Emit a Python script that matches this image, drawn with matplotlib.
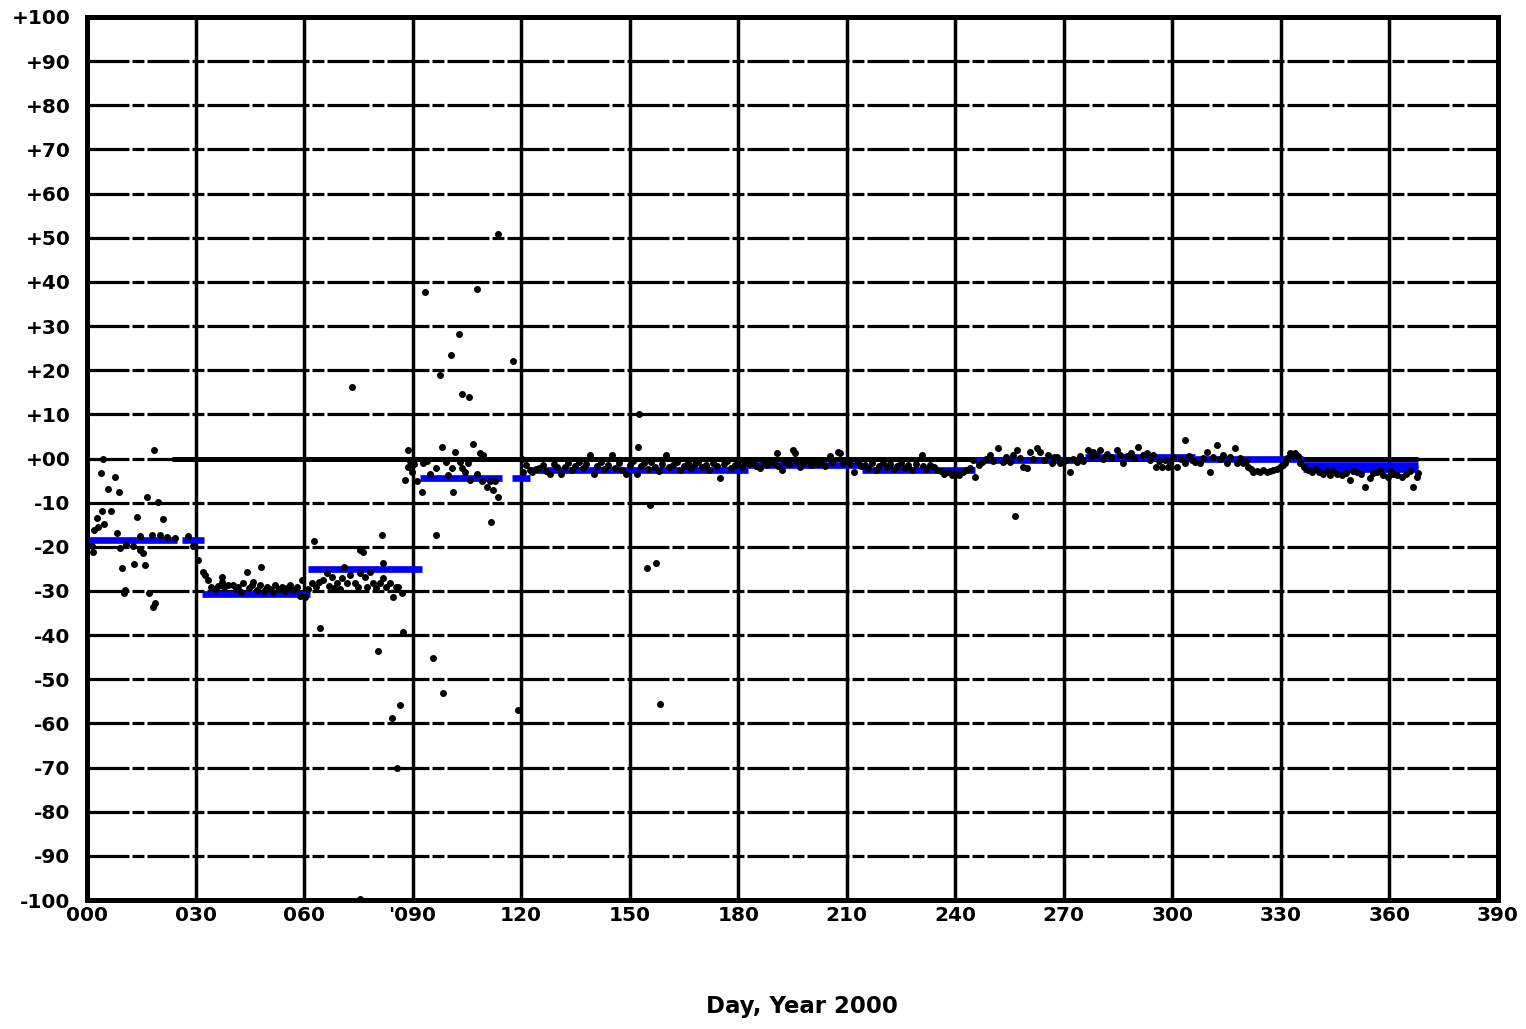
import matplotlib
matplotlib.use("Agg")
import matplotlib.pyplot as plt

plt.rcParams['font.family'] = ['DejaVu Sans']
plt.rcParams['font.weight'] = 'bold'
plt.rcParams['lines.scale_dashes'] = False

# Daily clock-offset observations, day of year 2000
obs_day = [
    1.3, 1.7, 2.0, 2.7, 3.1, 3.8, 4.2, 4.4, 4.8, 5.9, 6.6, 7.7, 8.2, 8.9, 9.1, 9.8, 10.3, 10.5,
    10.9, 12.8, 13.0, 13.7, 14.6, 14.6, 15.6, 16.0, 16.7, 17.0, 17.9, 18.3, 18.6, 18.8, 19.5,
    20.2, 21.1, 22.0, 24.3, 28.0, 29.4, 30.8, 32.0, 32.6, 33.5, 34.3,
    35.5, 36.3, 37.2, 37.2, 38.0, 39.0, 40.4, 41.1, 41.8, 42.5, 43.2, 44.1, 44.8, 45.5, 46.0,
    47.0, 47.8, 48.0, 48.8, 49.7, 50.5, 51.3, 52.0, 53.0, 53.8, 54.6, 55.4, 56.1, 57.0, 58.0,
    58.9, 59.3, 60.2,
    61.2, 62.1, 62.8, 63.3, 64.0, 64.4, 65.3, 66.2, 67.0, 67.6, 68.3, 69.0, 69.8, 70.5, 70.9,
    71.8, 72.7, 73.3, 74.1, 75.0, 75.5, 75.5, 75.5, 76.4, 76.8, 77.5, 78.2, 79.1, 80.0, 80.4,
    81.0, 81.4, 81.9, 81.9, 82.7, 83.7, 84.3, 84.7, 85.3, 85.7, 86.0, 86.5, 87.0, 87.3,
    87.9, 88.6, 88.8, 89.2, 89.7, 90.4, 91.1, 92.5, 93.0, 93.4, 94.0, 94.8, 95.6, 96.5, 96.6,
    97.6, 98.0, 98.4, 99.2, 99.9, 100.5, 100.8, 101.3, 101.7, 102.8, 103.2, 103.6, 103.6,
    104.5, 105.2, 105.6, 105.9, 106.7, 107.7, 107.7, 108.6, 109.1, 109.5, 110.5, 111.4,
    111.8, 112.3, 112.8, 113.5, 113.7, 117.8, 119.1, 120.1, 120.6, 121.3, 122.4,
    123, 124, 125, 126, 127, 128, 129, 130, 131, 132, 133, 134, 135, 136, 137, 138, 139, 140,
    141, 142, 143, 144, 145, 146, 147, 148, 149, 150, 151, 152, 152.4, 152.6, 153, 154, 154.8,
    155, 155.6, 156, 157, 157.3, 158, 158.4, 159, 160, 161, 162, 163, 164, 165, 166, 167, 168,
    169, 170, 171, 172, 173, 174, 175, 176, 177, 178, 179, 180, 181, 182,
    183, 184, 185, 186, 187, 188, 189, 190, 190.6, 191, 192, 193, 194, 195.2, 195.7, 196, 197,
    198, 199, 200, 201, 202, 203, 204, 205.4, 206, 207.7, 208.1, 209, 210, 211, 212, 213, 214,
    215, 216, 217, 218, 219, 220, 221, 222, 223, 224, 225, 226, 227, 228, 229, 230.7, 231,
    232, 233, 234, 235, 236, 237, 238, 239, 240, 241, 242, 243, 244, 245,
    245.4, 246.5, 247.5, 248.5, 249.6, 250.5, 251.9, 253.3, 254.0, 255.1, 256.0, 256.5,
    257.0, 258.0, 258.8, 259.7, 260.6, 261.5, 262.5, 263.4, 264.5, 265.7, 266.6, 267.3,
    268.0, 268.9, 270.0, 270.7, 271.7, 272.5, 273.5, 274.5, 275.3,
    276.8, 277.5, 278.1, 279.0, 280.0, 280.9, 282.0, 283.0, 284.6, 285.5, 286.4, 287.5,
    288.5, 289.5, 290.6, 292.0, 293.0, 293.8, 294.7, 295.6, 296.3, 297.0, 298.0, 298.9,
    299.3, 300.2, 301.2, 302.3, 303.5, 303.5, 304.5, 305.3, 306.2, 307.6, 308.5, 309.5,
    310.4, 311.3, 312.2, 313.2, 314.0, 315.0, 316.0, 317.3, 317.8, 318.7, 319.6, 320.3,
    321.0, 321.7, 322.4, 323.3, 324.2, 325.1, 326.1, 327.0, 327.9, 328.8, 329.8, 330.5,
    331.1, 331.8, 332.5, 333.2, 333.9, 334.6, 335.3,
    336.5, 337.5, 338.5, 339.5, 340.5, 341.7, 342.6, 343.6, 344.5, 345.4, 346.8, 348.0,
    349.1, 350.0, 351.0, 352.2, 353.3, 354.6, 355.5, 356.5, 357.4, 358.3, 359.7, 360.5,
    361.1, 362.0, 363.4, 364.7, 365.6, 366.6, 367.5, 368.0,
]
obs_val = [
    -19.8, -21.1, -16.2, -13.5, -15.6, -3.2, -12.0, 0.0, -14.8, -6.8, -12.0, -4.1, -16.9, -7.5,
    -20.3, -24.9, -30.5, -29.8,
    -19.6, -19.8, -23.9, -13.2, -17.6, -20.7, -21.5, -24.1, -8.7, -30.5, -17.3, -33.6, 1.9,
    -32.8, -9.8,
    -17.3, -13.8, -17.7, -17.9, -17.6, -19.8, -23.0, -25.6, -26.4, -27.5, -29.0,
    -29.5, -28.9, -26.8, -27.9, -29.2, -28.7, -28.7, -29.6, -29.0, -30.2, -28.3, -25.6, -29.4,
    -28.7, -27.9,
    -29.8, -28.7, -24.6, -30.1, -29.0, -29.5, -30.3, -28.7, -29.6, -29.0, -30.0, -29.3, -28.7,
    -29.8, -29.0,
    -31.1, -27.5, -31.3,
    -29.5, -28.3, -18.6, -29.1, -27.9, -38.4, -27.5, -26.0, -28.9, -26.8, -29.3, -28.3, -29.5,
    -27.0, -24.5,
    -28.3, -26.4, 16.1, -28.3, -29.2, -20.7, -26.0, -99.8, -21.1, -26.8, -29.0, -25.6, -28.3,
    -29.4, -43.6,
    -28.3, -17.3, -23.7, -27.1, -29.0, -28.3, -58.8, -31.3, -29.2, -70.1, -29.0, -55.8, -30.5,
    -39.3,
    -4.9, 1.9, -1.9, -0.5, -3.0, -1.2, -5.2, -7.5, -1.1, 37.6, -0.6, -3.4, -45.2, -17.3, -2.2,
    18.8, 2.6, -53.1, -0.8, -3.7, 23.5, -2.2, -7.5, 1.5, 28.2, -0.7, -2.2, 14.6,
    -3.0, -1.0, 13.9, -4.9, 3.2, -3.4, 38.4, 1.2, -5.2, 0.8, -6.4, -5.2,
    -14.3, -7.1, -5.2, 50.8, -8.7, 22.0, -57.0, 0.0, -3.0, -1.5, -2.6,
    -3.0, -2.4, -2.2, -1.5, -2.8, -3.4, -1.2, -1.9, -3.4, -2.0, -1.0, -2.5, -1.6, -0.8, -2.2,
    -1.3, 0.8, -3.4,
    -1.7, -0.9, -2.4, -1.4, 0.8, -2.1, -1.0, -2.6, -3.4, -1.5, -0.6, -3.4, 2.6, 10.1, -1.8,
    -1.1, -24.8,
    -2.3, -10.5, -0.7, -1.9, -23.7, -2.8, -55.6, -1.2, 0.8, -2.0, -1.4, -0.8, -2.5, -1.6, -1.0,
    -2.2, -1.3,
    -0.7, -2.0, -1.5, -2.6, -1.0, -1.8, -4.5, -1.2, -0.6, -2.1, -1.4, -0.8, -1.9, -1.0,
    -1.2, -0.6, -1.8, -2.2, -0.9, -1.4, -0.5, -1.1, 1.2, -1.7, -2.6, -0.8, -1.3, 1.9, 1.2,
    -0.6, -1.9,
    -1.0, -0.4, -1.5, -0.9, -1.2, -0.5, -1.6, 0.6, -0.8, 1.5, 1.2, -1.0, -0.5, -1.3, -3.0,
    -0.9, -1.8,
    -1.5, -2.2, -1.1, -2.5, -1.6, -1.0, -2.0, -1.3, -2.4, -1.7, -1.0, -2.1, -1.4, -2.6, -1.2,
    0.8, -1.8,
    -2.3, -1.5, -2.0, -2.6, -2.9, -3.4, -3.1, -3.7, -3.3, -3.7, -3.0, -2.6, -2.2, -0.3,
    -4.1, -1.5, -0.9, -0.2, 0.8, -0.6, 2.3, -0.7, 0.3, -0.7, 0.8, -13.0,
    1.9, 0.2, -1.9, -2.2, 1.5, 0.0, 2.3, 1.5, -0.4, 0.8, -1.1, 0.3,
    0.4, -1.1, -0.6, -0.3, -3.0, -0.2, -0.8, 0.5, -0.5,
    1.9, 0.6, 1.5, 0.9, 1.9, 0.0, 1.1, 0.4, 1.9, 0.8, -1.1, 0.6,
    1.2, 0.2, 2.7, 0.8, 1.3, -0.3, 0.7, -1.9, -0.5, -1.9, -0.4, -1.9,
    -0.7, 0.3, -1.9, -0.2, 4.2, -1.1, 0.5, -0.3, -0.7, -1.1, 0.2, 1.5,
    -3.0, 0.4, 3.1, 0.0, 0.9, -1.1, 0.3, 2.3, -1.1, 0.2, -1.1, -0.6,
    -1.9, -2.4, -3.0, -2.8, -3.0, -2.7, -3.0, -2.8, -2.6, -2.3, -1.9, -1.5,
    -1.1, 0.2, 1.2, 0.8, 1.2, 0.5, -1.1,
    -1.9, -2.6, -3.0, -2.4, -3.1, -3.4, -2.9, -3.7, -2.8, -3.4, -3.7, -3.2,
    -4.9, -2.9, -3.0, -3.5, -6.4, -4.5, -3.3, -3.0, -2.7, -3.7, -4.1, -2.9,
    -3.4, -3.7, -4.1, -3.4, -2.8, -6.4, -4.1, -3.2,
]

# Period means (blue bars): start day, end day, mean offset
mean_start = [0.6, 26.2, 31.7, 61.2, 92.0, 117.4, 122.4, 182.7, 214.2, 245.4, 275.8, 306.3, 336.2, 336.2]
mean_end = [24.8, 32.3, 61.6, 92.5, 114.6, 122.4, 182.7, 214.2, 245.4, 275.8, 306.3, 336.2, 368.0, 368.0]
mean_val = [-18.5, -18.5, -30.7, -25.1, -4.5, -4.5, -2.7, -1.5, -2.7, -0.4, 0.4, -0.2, -1.5, -2.3]

# Reference clock trace held at zero
ref_span = [23.5, 368.0]
ref_level = 0.0

x_ticks = list(range(0, 391, 30))
x_labels = ["000", "030", "060", "'090", "120", "150", "180", "210", "240", "270", "300", "330", "360", "390"]
y_ticks = list(range(-100, 101, 10))
y_labels = [("+%02d" % v if v >= 0 else "-%d" % abs(v)) for v in y_ticks]

fig = plt.figure(figsize=(15.26, 10.29), dpi=100)
ax = fig.add_axes([87 / 1526, 1 - 900 / 1029, (1498 - 87) / 1526, (900 - 17) / 1029])

ax.set_xlim(0, 390)
ax.set_ylim(-100, 100)

# grid: solid verticals, long-short dashed horizontals
dash = (0, (30.2, 2.2, 8.6, 2.2))
for xv in x_ticks[1:-1]:
    ax.axvline(xv, color='black', lw=2.5, zorder=1)
for yv in y_ticks[1:-1]:
    ax.axhline(yv, color='black', lw=2.3, linestyle=dash, zorder=1)

ax.hlines(ref_level, ref_span[0], ref_span[1], color='black', lw=3.6, zorder=2)

ax.hlines(mean_val, mean_start, mean_end, color='#0000ff', lw=4.8, zorder=3)

ax.plot(obs_day, obs_val, linestyle='none', marker='o', ms=4.0, mec='black', mfc='black',
        zorder=4, clip_on=True)

for s in ax.spines.values():
    s.set_linewidth(3.6)
    s.set_color('black')

ax.set_xticks(x_ticks)
ax.set_xticklabels(x_labels)
ax.set_yticks(y_ticks)
ax.set_yticklabels(y_labels)
ax.tick_params(axis='both', length=0, labelsize=14.5)
ax.tick_params(axis='x', pad=4)
ax.tick_params(axis='y', pad=12)
for lab in ax.get_xticklabels() + ax.get_yticklabels():
    lab.set_fontweight('bold')

fig.text(802 / 1526, 1 - 1007 / 1029, "Day, Year 2000", ha='center', va='center',
         fontsize=16.5, fontweight='bold')

fig.savefig("out.png", dpi=100, facecolor='white')
